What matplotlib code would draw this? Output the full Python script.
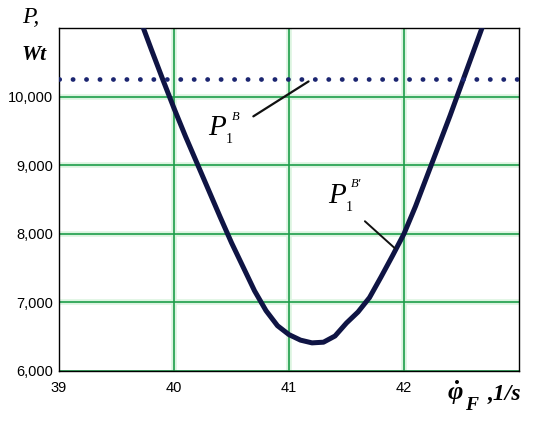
import numpy as np
import matplotlib
matplotlib.use("Agg")
import matplotlib.pyplot as plt

# power P vs angular speed
phi = [39.7, 39.8, 39.9, 40.0, 40.1, 40.2, 40.3, 40.4, 40.5, 40.6, 40.7,
       40.8, 40.9, 41.0, 41.1, 41.2, 41.3, 41.4, 41.5, 41.6, 41.7, 41.8,
       41.9, 42.0, 42.1, 42.2, 42.3, 42.4, 42.5, 42.6, 42.7]
power = [11150, 10700, 10260, 9830, 9420, 9030, 8640, 8250, 7870, 7520, 7170,
         6880, 6660, 6530, 6450, 6410, 6420, 6510, 6700, 6860, 7070, 7370,
         7680, 8000, 8400, 8840, 9280, 9720, 10180, 10640, 11100]
p_level = 10250
xticks = [39, 40, 41, 42]
yticks = [6000, 7000, 8000, 9000, 10000]
ytick_labels = ["6,000", "7,000", "8,000", "9,000", "10,000"]

plt.rcParams['mathtext.fontset'] = 'custom'
plt.rcParams['mathtext.it'] = 'Liberation Serif:italic:bold'
plt.rcParams['mathtext.rm'] = 'Liberation Serif:bold'
plt.rcParams['mathtext.bf'] = 'Liberation Serif:bold'

fig = plt.figure(figsize=(5.5, 4.23), dpi=100)
ax = fig.add_axes([59 / 550, 52 / 423, 460 / 550, 343 / 423])

ax.plot(phi, power, color='#0f1444', lw=3.6, solid_capstyle='round', zorder=3)
ax.axhline(p_level, color='#1b2570', lw=3.4, linestyle=(0, (0.05, 2.8)),
           dash_capstyle='round', zorder=3)

ax.set_xlim(39, 43)
ax.set_ylim(6000, 11000)
ax.set_xticks(xticks)
ax.set_yticks(yticks)
ax.set_yticklabels(ytick_labels)
ax.tick_params(length=0, labelsize=10.5)
ax.tick_params(axis='x', pad=7)
ax.tick_params(axis='y', pad=4)
for lab in ax.get_xticklabels() + ax.get_yticklabels():
    lab.set_fontfamily('Liberation Sans')

# soft glow under the green grid (like the jpeg bleed)
for xt in xticks[1:]:
    ax.axvline(xt, color='#dcf4e0', lw=4, zorder=0.5)
for yt in yticks[1:]:
    ax.axhline(yt, color='#dcf4e0', lw=4, zorder=0.5)
ax.grid(True, color='#1e9e4a', lw=1.2, zorder=0.6)
ax.set_axisbelow(True)
for s in ax.spines.values():
    s.set_linewidth(1.0)
    s.set_color('black')

# annotations
ax.annotate('', xy=(41.17, 10221), xytext=(40.69, 9712),
            arrowprops=dict(arrowstyle='-', lw=1.6, color='#111111',
                            shrinkA=0, shrinkB=0))
ax.text(40.30, 9435, 'P', fontsize=21, fontstyle='italic', fontfamily='Liberation Serif')
ax.text(40.45, 9330, '1', fontsize=10, fontfamily='Liberation Serif')
ax.text(40.50, 9660, 'B', fontsize=9, fontstyle='italic', fontfamily='Liberation Serif')

ax.annotate('', xy=(41.92, 7790), xytext=(41.66, 8183),
            arrowprops=dict(arrowstyle='-', lw=1.4, color='#111111',
                            shrinkA=0, shrinkB=0))
ax.text(41.34, 8445, 'P', fontsize=21, fontstyle='italic', fontfamily='Liberation Serif')
ax.text(41.49, 8330, '1', fontsize=10, fontfamily='Liberation Serif')
ax.text(41.54, 8680, 'B\u2032', fontsize=9, fontstyle='italic', fontfamily='Liberation Serif')

# axis labels
fig.text(0.040, 0.946, 'P,', fontsize=17, fontstyle='italic', fontfamily='Liberation Serif')
fig.text(0.040, 0.858, 'Wt', fontsize=15.5, fontstyle='italic', fontweight='bold',
         fontfamily='Liberation Serif')
fig.text(0.813, 0.054, r'$\dot{\varphi}$', fontsize=19)
fig.text(0.845, 0.031, 'F', fontsize=14, fontstyle='italic', fontweight='bold',
         fontfamily='Liberation Serif')
fig.text(0.887, 0.054, ',1/s', fontsize=17, fontstyle='italic',
         fontweight='bold', fontfamily='Liberation Serif')

fig.savefig('out.png', dpi=100, facecolor='white')
